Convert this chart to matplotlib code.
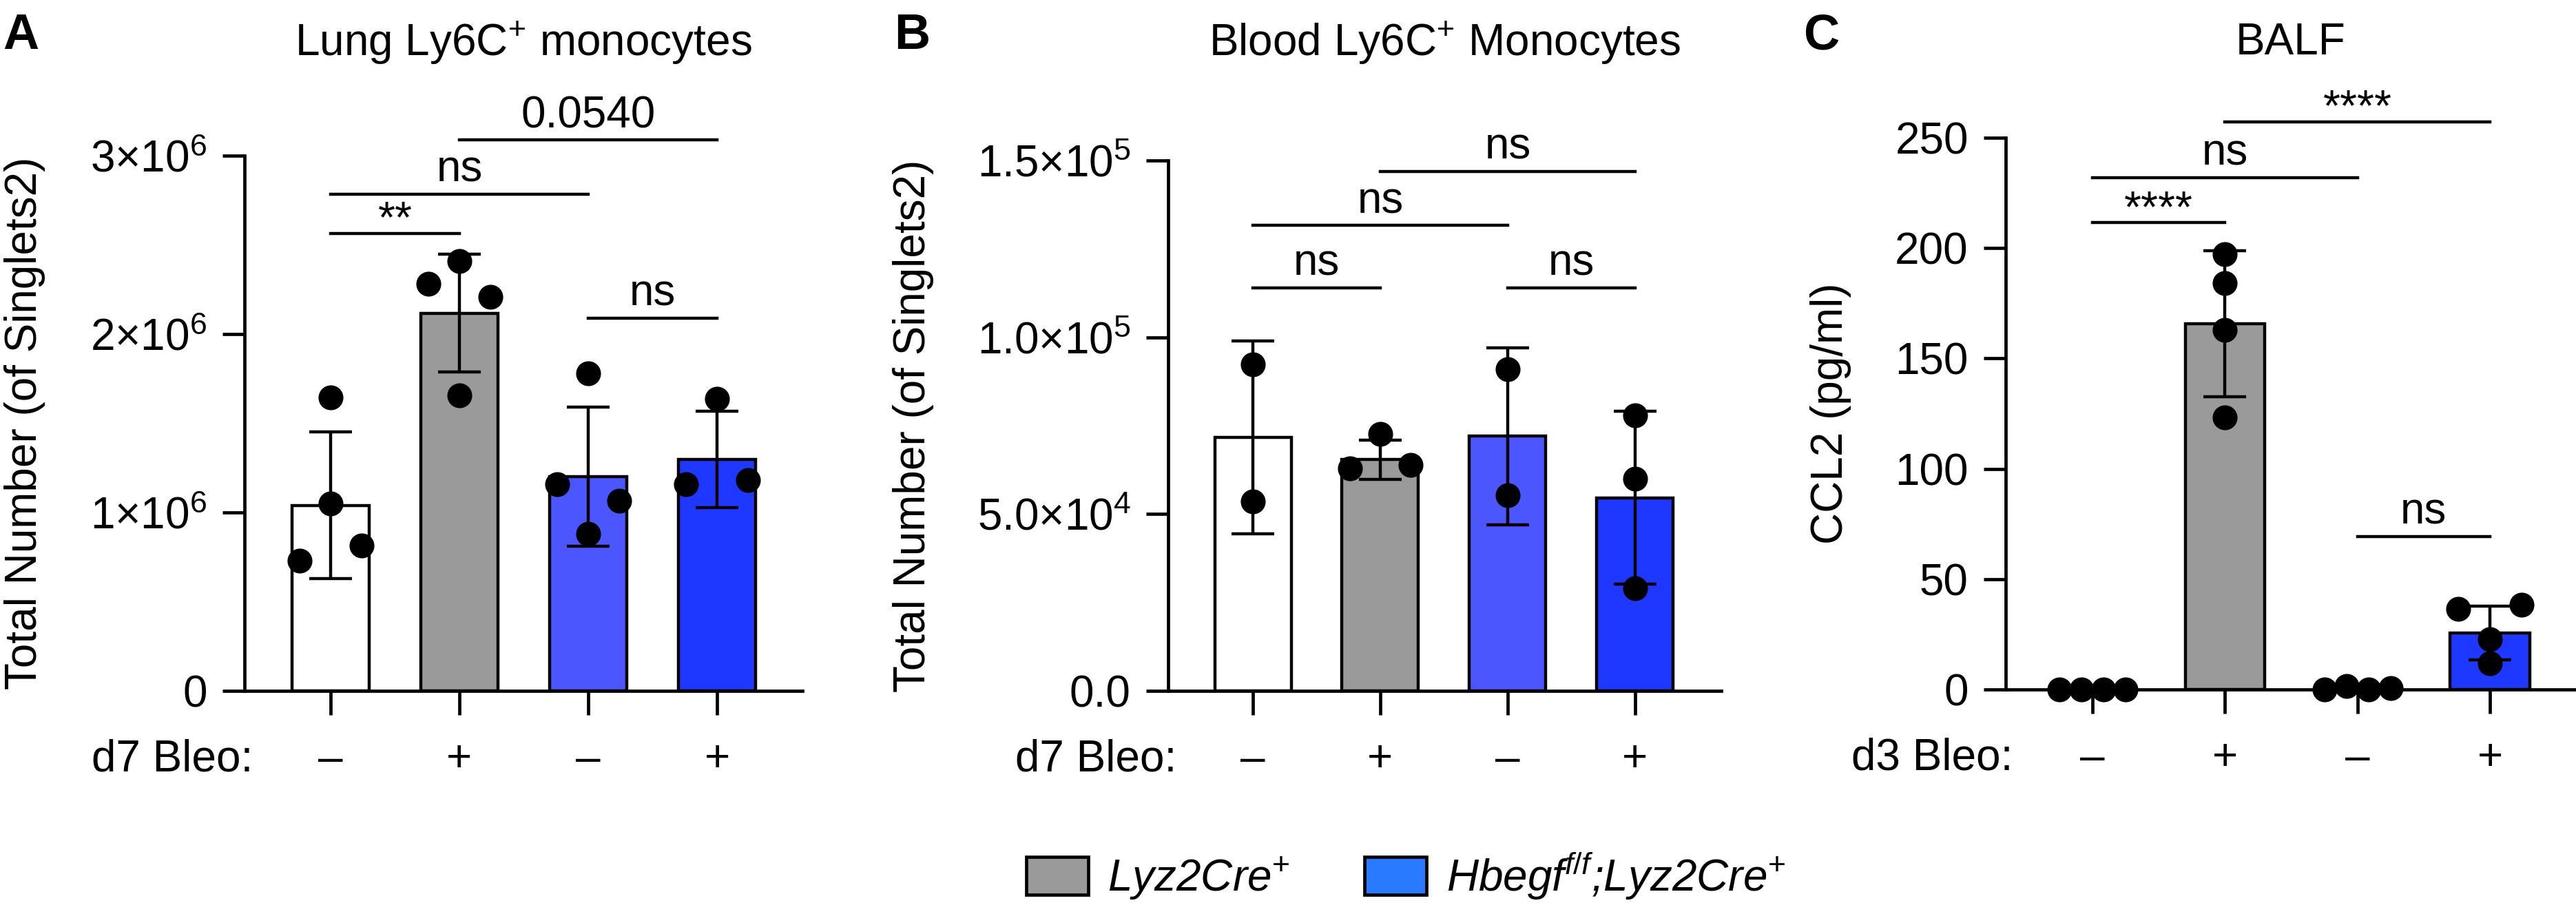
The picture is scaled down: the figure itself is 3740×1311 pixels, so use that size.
import numpy as np
import matplotlib.pyplot as plt
from matplotlib.patches import Patch
from matplotlib import transforms

plt.rcParams['font.family'] = ['Liberation Sans', 'DejaVu Sans']
plt.rcParams['mathtext.fontset'] = 'custom'
plt.rcParams['mathtext.rm'] = 'Liberation Sans'
plt.rcParams['mathtext.it'] = 'Liberation Sans:italic'
plt.rcParams['mathtext.bf'] = 'Liberation Sans:bold'

FS = 46

# ---- data ----
groups = ['–', '+', '–', '+']
bar_colors = ['white', '#9a9a9a', '#4b56ff', '#1f38ff']

lung_mean = [1.04e6, 2.117e6, 1.20e6, 1.296e6]
lung_sd = [0.41e6, 0.33e6, 0.39e6, 0.27e6]
lung_points = [[1.645e6, 1.05e6, 0.73e6, 0.815e6],
               [2.28e6, 2.41e6, 2.21e6, 1.656e6],
               [1.78e6, 1.16e6, 1.067e6, 0.88e6],
               [1.636e6, 1.16e6, 1.18e6]]
lung_comps = [(0, 1, 2.564e6, '**'), (0, 2, 2.785e6, 'ns'),
              (1, 3, 3.088e6, '0.0540'), (2, 3, 2.089e6, 'ns')]

blood_mean = [71.7e3, 65.4e3, 72.0e3, 54.6e3]
blood_sd = [27.2e3, 5.6e3, 25.0e3, 24.5e3]
blood_points = [[92.3e3, 53.6e3],
                [72.7e3, 62.9e3, 63.9e3],
                [90.9e3, 55.4e3],
                [78e3, 60e3, 29e3]]
blood_comps = [(0, 1, 114e3, 'ns'), (2, 3, 114e3, 'ns'),
               (0, 2, 131.6e3, 'ns'), (1, 3, 146.9e3, 'ns')]

ccl2_mean = [0, 165.8, 0.6, 25.6]
ccl2_sd = [0, 33.1, 0.8, 12.3]
ccl2_points = [[0, 0, 0, 0],
               [197.3, 184.3, 163, 123.2],
               [0, 1.6, 0, 0.7],
               [36.6, 38.5, 22.9, 11.9]]
ccl2_comps = [(0, 1, 211.5, '****'), (0, 2, 231.9, 'ns'),
              (1, 3, 257.3, '****'), (2, 3, 69.4, 'ns')]

# horizontal scatter of the dots (layout only)
jit_lung = [[0, 0, -0.24, 0.24], [-0.24, 0, 0.24, 0], [0, -0.24, 0.24, 0], [0, -0.24, 0.24]]
jit_blood = [[0, 0], [0, -0.24, 0.24], [0, 0], [0, 0, 0]]
jit_ccl2 = [[-0.25, -0.083, 0.083, 0.25], [0, 0, 0, 0],
            [-0.25, -0.083, 0.083, 0.25], [-0.24, 0.24, 0, 0]]

W, H = 3741, 1311
fig = plt.figure(figsize=(W / 100, H / 100), dpi=100)


def px_axes(left, right, top, bottom):
    return fig.add_axes([left / W, (H - bottom) / H, (right - left) / W, (bottom - top) / H])


def draw_panel(ax, means, sds, points, jit, comps, ymax, yticks, yticklabels,
               ylabel, xlim, row_label, ylabel_x):
    x = np.arange(len(means))
    ax.bar(x, means, width=0.6, color=bar_colors, edgecolor='black', linewidth=3.2, zorder=2)
    ax.errorbar(x, means, yerr=sds, fmt='none', ecolor='black', elinewidth=3.2,
                capsize=22, capthick=3.2, zorder=3)
    for i, pts in enumerate(points):
        ax.plot(x[i] + np.array(jit[i]), pts, 'o', color='black', markersize=25,
                zorder=4, clip_on=False)
    ax.set_xlim(*xlim)
    ax.set_ylim(0, ymax)
    ax.spines['top'].set_visible(False)
    ax.spines['right'].set_visible(False)
    for s in ['left', 'bottom']:
        ax.spines[s].set_linewidth(3.4)
    ax.set_yticks(yticks)
    ax.set_yticklabels(yticklabels, fontsize=FS)
    ax.tick_params(axis='y', length=23, width=3.4, pad=16)
    ax.set_xticks(x)
    ax.set_xticklabels([])
    ax.tick_params(axis='x', length=25, width=3.4)
    trans = transforms.blended_transform_factory(ax.transData, ax.transAxes)
    for i, g in enumerate(groups):
        ax.annotate(g, xy=(x[i], 0), xycoords=trans, xytext=(0, -84),
                    textcoords='offset points', ha='center', va='baseline', fontsize=FS)
    ax.annotate(row_label, xy=(-0.6, 0), xycoords=trans, xytext=(0, -84),
                textcoords='offset points', ha='right', va='baseline', fontsize=FS)
    ax.text(ylabel_x, 0.5, ylabel, transform=ax.transAxes, rotation=90,
            ha='center', va='center', fontsize=FS)
    for i, j, y, lab in comps:
        ax.plot([x[i], x[j]], [y, y], color='black', lw=3.2, clip_on=False, zorder=5)
        off = 1 if '*' in lab else 13
        ax.annotate(lab, xy=((x[i] + x[j]) / 2, y), xytext=(0, off),
                    textcoords='offset points', ha='center', va='baseline',
                    fontsize=FS, annotation_clip=False)


axA = px_axes(355, 1165, 226, 1003)
draw_panel(axA, lung_mean, lung_sd, lung_points, jit_lung, lung_comps, 3e6,
           [0, 1e6, 2e6, 3e6], ['0', '1×10$^{6}$', '2×10$^{6}$', '3×10$^{6}$'],
           'Total Number (of Singlets2)', (-0.668, 3.663), 'd7 Bleo:', -0.394)

axB = px_axes(1696, 2499, 233, 1003)
draw_panel(axB, blood_mean, blood_sd, blood_points, jit_blood, blood_comps, 1.5e5,
           [0, 5e4, 1e5, 1.5e5], ['0.0', '5.0×10$^{4}$', '1.0×10$^{5}$', '1.5×10$^{5}$'],
           'Total Number (of Singlets2)', (-0.665, 3.676), 'd7 Bleo:', -0.461)

axC = px_axes(2912, 3740, 200, 1001)
draw_panel(axC, ccl2_mean, ccl2_sd, ccl2_points, jit_ccl2, ccl2_comps, 250,
           [0, 50, 100, 150, 200, 250], ['0', '50', '100', '150', '200', '250'],
           'CCL2 (pg/ml)', (-0.656, 3.65), 'd3 Bleo:', -0.307)

# titles and panel letters
title_y = 1 - 62 / H
fig.text(760 / W, title_y, 'Lung Ly6C$^{+}$ monocytes', ha='center', va='center', fontsize=FS)
fig.text(2097 / W, title_y, 'Blood Ly6C$^{+}$ Monocytes', ha='center', va='center', fontsize=FS)
fig.text(3326 / W, title_y, 'BALF', ha='center', va='center', fontsize=FS)
for lx, letter in [(4, 'A'), (1298, 'B'), (2619, 'C')]:
    fig.text(lx / W, 1 - 52 / H, letter, ha='left', va='center', fontsize=52, fontweight='bold')

# legend
handles = [Patch(facecolor='#9a9a9a', edgecolor='black', linewidth=3.4),
           Patch(facecolor='#2a7aff', edgecolor='black', linewidth=3.4)]
labels = ['Lyz2Cre$^{+}$', 'Hbegf$^{\\mathit{f/f}}$;Lyz2Cre$^{+}$']
fig.legend(handles, labels, loc='center', bbox_to_anchor=(2041 / W, 1 - 1272 / H),
           ncol=2, frameon=False, prop={'size': FS, 'style': 'italic'},
           handlelength=1.4, handleheight=0.95, handletextpad=0.45, columnspacing=1.7)

fig.savefig('out.png', dpi=100)
